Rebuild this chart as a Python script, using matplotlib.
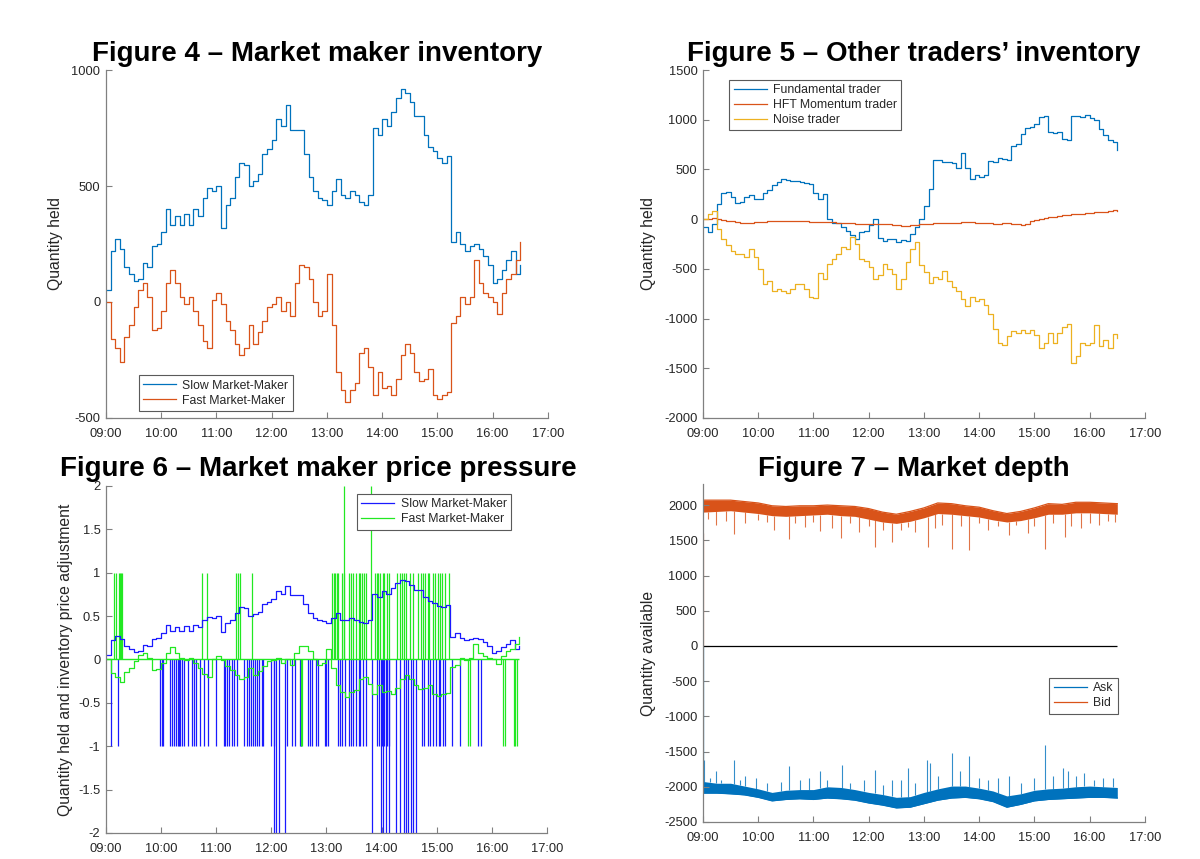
import numpy as np
import matplotlib
matplotlib.use("Agg")
import matplotlib.pyplot as plt

plt.rcParams['font.family'] = ['Liberation Sans', 'DejaVu Sans']
plt.rcParams['axes.unicode_minus'] = False

# ---- data -------------------------------------------------------------
hour_ticks = [9, 10, 11, 12, 13, 14, 15, 16, 17]
hour_labels = ['09:00', '10:00', '11:00', '12:00', '13:00', '14:00', '15:00', '16:00', '17:00']

# inventories sampled every 5 minutes from 09:00 to 16:30
minutes5 = list(range(0, 455, 5))

slow_mm = [50, 220, 270, 230, 150, 120, 90, 100, 170, 150,
           240, 250, 300, 400, 330, 370, 330, 380, 330, 400,
           370, 450, 490, 480, 500, 320, 420, 450, 540, 600,
           590, 500, 520, 550, 640, 660, 700, 790, 760, 850,
           740, 740, 740, 640, 540, 480, 450, 440, 420, 480,
           530, 460, 450, 480, 460, 430, 420, 460, 750, 720,
           790, 760, 820, 880, 920, 900, 860, 800, 800, 720,
           670, 650, 620, 600, 630, 260, 300, 250, 220, 240,
           250, 230, 200, 160, 80, 100, 140, 180, 220, 120,
           160]
fast_mm = [0, -160, -200, -260, -150, -100, -20, 50, 80, 20,
           -120, -110, -40, 80, 140, 80, 20, -10, 20, -40,
           -100, -170, -200, 10, 40, -10, -80, -120, -180, -230,
           -200, -100, -180, -130, -80, -20, -10, 20, -40, 0,
           -60, 80, 160, 150, 100, 0, -60, -40, 120, -100,
           -300, -380, -430, -380, -350, -220, -200, -280, -400, -300,
           -370, -360, -400, -330, -230, -180, -220, -300, -340, -330,
           -290, -400, -420, -400, -390, -90, -60, 20, -10, 20,
           180, 80, 40, 20, 0, -50, 40, 100, 120, 180,
           260]

fundamental = [-80, -130, -50, 150, 260, 270, 220, 160, 170, 220,
               240, 200, 200, 260, 290, 340, 370, 400, 390, 380,
               380, 370, 360, 350, 260, 200, 250, 0, -40, -40,
               -80, -120, -160, -200, -130, -120, -60, 0, -190, -220,
               -200, -200, -230, -210, -220, -150, -80, 0, 130, 300,
               590, 590, 570, 570, 560, 510, 670, 510, 400, 440,
               420, 440, 580, 570, 610, 600, 590, 740, 760, 860,
               920, 930, 960, 1030, 1040, 880, 870, 880, 810, 800,
               1040, 1040, 1030, 1050, 1020, 1000, 910, 850, 800, 780,
               700]
hft_momentum = [0, 0, 10, 0, -10, -20, -20, -30, -40, -40,
                -40, -30, -30, -30, -20, -20, -20, -15, -15, -15,
                -20, -20, -20, -25, -25, -30, -30, -30, -30, -35,
                -35, -40, -40, -45, -45, -45, -45, -50, -50, -50,
                -45, -55, -55, -65, -65, -60, -60, -50, -50, -45,
                -40, -40, -35, -40, -40, -35, -30, -25, -30, -35,
                -40, -40, -40, -45, -45, -40, -40, -45, -50, -60,
                -50, -20, -10, 0, 10, 20, 20, 30, 40, 40,
                50, 50, 55, 60, 65, 70, 70, 75, 80, 90,
                85]
noise = [0, 50, 80, -100, -200, -260, -320, -350, -350, -380,
         -300, -380, -500, -650, -620, -720, -700, -720, -740, -700,
         -650, -650, -700, -780, -790, -540, -600, -450, -400, -350,
         -280, -300, -180, -250, -400, -420, -480, -600, -560, -450,
         -500, -550, -700, -600, -430, -300, -230, -460, -530, -640,
         -580, -600, -520, -620, -680, -720, -800, -870, -780, -820,
         -800, -860, -950, -1100, -1250, -1270, -1180, -1130, -1150, -1120,
         -1150, -1120, -1170, -1300, -1250, -1150, -1250, -1150, -1080, -1050,
         -1450, -1380, -1250, -1270, -1250, -1060, -1280, -1220, -1300, -1160,
         -1200]

# price adjustment events (minutes after 09:00)
slow_adj_minus1 = [6, 13, 59, 61, 62, 70, 72, 74, 76, 78, 79, 81, 83, 85, 89, 94, 96, 98,
                   102, 107, 111, 120, 128, 130, 132, 134, 137, 139, 143, 150, 153, 156,
                   158, 160, 162, 164, 167, 170, 171, 180, 183, 197, 202, 206, 211, 212,
                   220, 222, 224, 229, 231, 238, 240, 242, 253, 255, 257, 260, 264, 267,
                   269, 272, 275, 277, 280, 283, 295, 297, 300, 303, 306, 308, 344, 346,
                   351, 353, 356, 359, 362, 364, 367, 369, 377, 385, 405, 408]
slow_adj_minus2 = [183, 185, 188, 195, 290, 299, 302, 305, 308, 316, 320, 324, 327, 329,
                   332, 334, 337]
fast_adj_plus1 = [9, 11, 14, 15, 16, 17, 105, 110, 142, 144, 146, 159, 246, 248, 249, 251,
                  253, 257, 259, 265, 267, 269, 272, 275, 277, 279, 281, 283, 293, 295,
                  296, 298, 301, 303, 306, 308, 317, 320, 322, 324, 327, 331, 334, 340,
                  343, 345, 347, 350, 352, 356, 358, 361, 364, 366, 369, 373]
fast_adj_plus2 = [259, 288]
fast_adj_minus1 = [212, 213, 394, 396, 432, 434, 444, 445, 447]

# market depth, band sampled every 15 minutes
minutes15 = list(range(0, 455, 15))
bid_hi = [2070, 2070, 2070, 2050, 2030, 1990, 1980, 1990, 1990, 2000, 1990, 1980, 1950, 1900,
          1870, 1910, 1960, 2030, 2020, 1990, 1970, 1920, 1880, 1910, 1960, 2020, 2010, 2040,
          2040, 2030, 2020]
bid_lo = [1900, 1910, 1920, 1900, 1880, 1850, 1840, 1850, 1860, 1870, 1850, 1840, 1800, 1760,
          1740, 1770, 1820, 1880, 1870, 1850, 1830, 1790, 1760, 1780, 1820, 1870, 1870, 1890,
          1890, 1880, 1870]
ask_hi = [-1925, -1950, -1950, -1990, -2030, -2080, -2050, -2040, -2040, -2000, -2010, -2040,
          -2080, -2110, -2150, -2140, -2080, -2030, -1990, -1990, -2020, -2060, -2130, -2100,
          -2050, -2030, -2020, -2000, -1990, -2000, -2010]
ask_lo = [-2090, -2090, -2100, -2115, -2150, -2200, -2180, -2170, -2180, -2160, -2170, -2190,
          -2230, -2260, -2300, -2290, -2240, -2190, -2160, -2150, -2170, -2210, -2290, -2250,
          -2200, -2180, -2170, -2160, -2150, -2150, -2160]
bid_spike_min = [5, 14, 25, 34, 46, 60, 70, 77, 93, 100, 111, 120, 127, 140, 150, 160, 169, 180,
                 187, 195, 205, 215, 223, 230, 244, 252, 260, 270, 280, 289, 300, 310, 320, 332,
                 340, 353, 360, 371, 380, 393, 400, 411, 420, 430, 440, 448]
bid_spike_val = [1800, 1716, 1780, 1584, 1740, 1790, 1760, 1645, 1518, 1750, 1693, 1760, 1631,
                 1669, 1537, 1740, 1622, 1700, 1400, 1650, 1480, 1640, 1693, 1620, 1409, 1669,
                 1720, 1376, 1700, 1362, 1740, 1645, 1700, 1574, 1720, 1598, 1700, 1376, 1750,
                 1550, 1700, 1669, 1740, 1720, 1780, 1760]
ask_spike_min = [1, 8, 14, 20, 34, 40, 46, 58, 70, 85, 93, 105, 115, 127, 135, 151, 160, 175,
                 187, 195, 205, 215, 223, 230, 243, 247, 255, 270, 279, 289, 300, 310, 320,
                 332, 345, 360, 371, 380, 391, 396, 405, 414, 425, 435, 445]
ask_spike_val = [-1617, -1880, -1783, -1900, -1617, -1900, -1853, -1877, -1950, -1930, -1702,
                 -1900, -1880, -1783, -1900, -1688, -1950, -1900, -1768, -1980, -1901, -1900,
                 -1735, -1950, -1626, -1660, -1850, -1523, -1783, -1560, -1870, -1900, -1880,
                 -1853, -1950, -1880, -1404, -1850, -1735, -1783, -1850, -1806, -1900, -1870,
                 -1880]

# ---- helpers ----------------------------------------------------------
def hours(mins):
    return 9 + np.asarray(mins, dtype=float) / 60.0

AXC = '#808080'
TXT = '#262626'

def style(ax, ylim, yticks):
    ax.set_xlim(9, 17)
    ax.set_xticks(hour_ticks)
    ax.set_xticklabels(hour_labels)
    ax.set_ylim(ylim)
    ax.set_yticks(yticks)
    ax.set_yticklabels(['%g' % v for v in yticks])
    for s in ['top', 'right']:
        ax.spines[s].set_visible(False)
    for s in ['left', 'bottom']:
        ax.spines[s].set_color(AXC)
        ax.spines[s].set_linewidth(0.9)
    ax.tick_params(direction='in', length=4, width=0.8, color=AXC,
                   labelsize=9.3, labelcolor=TXT)
    ax.tick_params(axis='x', pad=7)
    ax.tick_params(axis='y', pad=4)

def legend(ax, loc, anchor):
    lg = ax.legend(loc=loc, bbox_to_anchor=anchor, fontsize=8.8, frameon=True,
                   fancybox=False, edgecolor='#5a5a5a', framealpha=1,
                   handlelength=2.7, handletextpad=0.5, borderpad=0.35,
                   labelspacing=0.25, borderaxespad=0)
    lg.get_frame().set_linewidth(0.8)
    for t in lg.get_texts():
        t.set_color(TXT)

W, H = 1200, 859
def title(x, y, s):
    fig.text(x / W, 1 - y / H, s, ha='center', va='baseline',
             fontsize=20, fontweight='bold', color='black')

fig = plt.figure(figsize=(12, 8.59), dpi=100)

t5 = hours(minutes5)

# ---- Figure 4 ---------------------------------------------------------
ax4 = fig.add_axes([0.0883, 0.5134, 0.3683, 0.4051])
ax4.plot(t5, slow_mm, color='#0072BD', lw=0.9, drawstyle='steps-post', label='Slow Market-Maker')
ax4.plot(t5, fast_mm, color='#D95319', lw=0.9, drawstyle='steps-post', label='Fast Market-Maker')
style(ax4, (-500, 1000), [-500, 0, 500, 1000])
ax4.set_ylabel('Quantity held', fontsize=11.3, color=TXT, labelpad=6)
legend(ax4, 'lower left', (0.075, 0.02))
title(317, 61, 'Figure 4 \u2013 Market maker inventory')

# ---- Figure 5 ---------------------------------------------------------
ax5 = fig.add_axes([0.5858, 0.5134, 0.3683, 0.4051])
ax5.plot(t5, fundamental, color='#0072BD', lw=0.9, drawstyle='steps-post', label='Fundamental trader')
ax5.plot(t5, hft_momentum, color='#D95319', lw=0.9, drawstyle='steps-post', label='HFT Momentum trader')
ax5.plot(t5, noise, color='#EDB120', lw=0.9, drawstyle='steps-post', label='Noise trader')
style(ax5, (-2000, 1500), [-2000, -1500, -1000, -500, 0, 500, 1000, 1500])
ax5.set_ylabel('Quantity held', fontsize=11.3, color=TXT, labelpad=6)
legend(ax5, 'upper left', (0.06, 0.972))
title(914, 61, 'Figure 5 \u2013 Other traders\u2019 inventory')

# ---- Figure 6 ---------------------------------------------------------
ax6 = fig.add_axes([0.0883, 0.0303, 0.3675, 0.4040])
BLUE6 = '#1a1aff'
GREEN6 = '#22e822'
ax6.vlines(hours(slow_adj_minus1), 0, -1, color=BLUE6, lw=0.9)
ax6.vlines(hours(slow_adj_minus2), 0, -2, color=BLUE6, lw=0.9)
ax6.vlines(hours(fast_adj_plus1), 0, 1, color=GREEN6, lw=0.9)
ax6.vlines(hours(fast_adj_plus2), 0, 2, color=GREEN6, lw=0.9)
ax6.vlines(hours(fast_adj_minus1), 0, -1, color=GREEN6, lw=0.9)
ax6.hlines(0, t5[0], t5[-1], color=GREEN6, lw=1.0)
ax6.plot(t5, np.array(slow_mm) / 1000.0, color=BLUE6, lw=0.9, drawstyle='steps-post', label='Slow Market-Maker')
ax6.plot(t5, np.array(fast_mm) / 1000.0, color=GREEN6, lw=0.9, drawstyle='steps-post', label='Fast Market-Maker')
style(ax6, (-2, 2), [-2, -1.5, -1, -0.5, 0, 0.5, 1, 1.5, 2])
ax6.set_ylabel('Quantity held and inventory price adjustment', fontsize=11.3, color=TXT, labelpad=4)
legend(ax6, 'upper right', (0.918, 0.977))
title(318, 476, 'Figure 6 \u2013 Market maker price pressure')

# ---- Figure 7 ---------------------------------------------------------
ax7 = fig.add_axes([0.5858, 0.0431, 0.3683, 0.3935])
t15 = hours(minutes15)
ASK = '#0072BD'
BID = '#D95319'
ax7.fill_between(t15, ask_lo, ask_hi, color=ASK, lw=0)
ax7.vlines(hours(ask_spike_min), np.interp(ask_spike_min, minutes15, ask_hi), ask_spike_val,
           color=ASK, lw=0.8, alpha=0.8)
ax7.plot(t15, ask_lo, color=ASK, lw=0.9, label='Ask')
ax7.fill_between(t15, bid_lo, bid_hi, color=BID, lw=0)
ax7.vlines(hours(bid_spike_min), np.interp(bid_spike_min, minutes15, bid_lo), bid_spike_val,
           color=BID, lw=0.8, alpha=0.8)
ax7.plot(t15, bid_hi, color=BID, lw=0.9, label='Bid')
ax7.vlines(t15[0], 0, ask_spike_val[0], color=ASK, lw=0.9)
ax7.vlines(t15[0], 0, 1600, color=BID, lw=0.9, alpha=0.7)
ax7.hlines(0, t15[0], t15[-1], color='black', lw=0.9)
style(ax7, (-2500, 2300), [-2500, -2000, -1500, -1000, -500, 0, 500, 1000, 1500, 2000])
ax7.set_ylabel('Quantity available', fontsize=11.3, color=TXT, labelpad=6)
legend(ax7, 'upper right', (0.938, 0.426))
title(914, 476, 'Figure 7 \u2013 Market depth')

fig.savefig('out.png', dpi=100)
